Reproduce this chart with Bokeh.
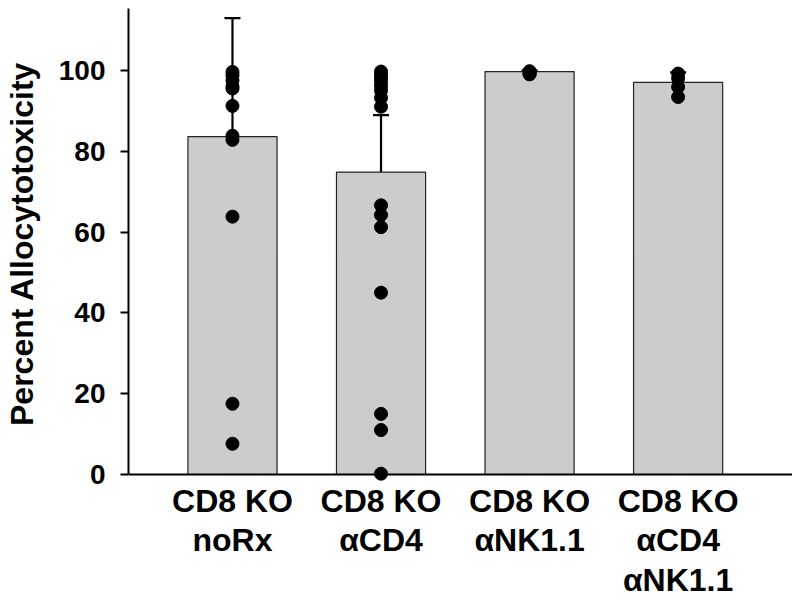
from bokeh.plotting import figure
from bokeh.models import ColumnDataSource, Whisker, TeeHead, FixedTicker, Range1d, Span
from bokeh.core.properties import value
from bokeh.embed import file_html
from bokeh.resources import INLINE

# ---- data ----
categories = ["CD8 KO\nnoRx", "CD8 KO\nαCD4", "CD8 KO\nαNK1.1", "CD8 KO\nαCD4\nαNK1.1"]
means = [83.6, 74.8, 99.7, 97.0]
errors = [29.3, 14.1, 0.3, 2.5]
points_noRx = [99.6, 98.8, 97.5, 96.0, 95.5, 91.2, 83.8, 82.8, 63.8, 17.5, 7.6]
points_aCD4 = [99.7, 99.0, 98.2, 97.3, 96.2, 95.0, 93.2, 91.0, 66.6, 64.2, 61.2, 45.0, 15.0, 11.0, 0.2]
points_aNK = [99.8, 99.5, 99.2, 99.0]
points_aCD4_aNK = [99.2, 98.0, 95.9, 93.4]
yticks = [0, 20, 40, 60, 80, 100]
y_title = "Percent Allocytotoxicity"

xs = list(range(len(categories)))
all_points = [points_noRx, points_aCD4, points_aNK, points_aCD4_aNK]
px, py = [], []
for i, pts in enumerate(all_points):
    for v in pts:
        px.append(xs[i])
        py.append(v)

bar_src = ColumnDataSource(dict(x=xs, top=means,
                                upper=[m + e for m, e in zip(means, errors)]))
pt_src = ColumnDataSource(dict(x=px, y=py))
lab_src = ColumnDataSource(dict(x=xs, y=[0] * len(xs), text=categories))

FONT = "Liberation Sans"
YMAX = 115.3
YMIN = -29.69  # room below the axis for the category labels

p = figure(width=792, height=594, output_backend="svg", toolbar_location=None,
           x_range=Range1d(-0.7, 3.77), y_range=Range1d(YMIN, YMAX),
           min_border_left=119, min_border_right=0, min_border_top=8,
           min_border_bottom=0)
p.outline_line_color = None
p.grid.visible = False
p.background_fill_color = "white"
p.xaxis.visible = False

p.vbar(x="x", top="top", width=0.6, bottom=0, source=bar_src,
       fill_color="#cccccc", line_color="#222222", line_width=1.2)

w = Whisker(base="x", lower="top", upper="upper", source=bar_src,
            line_color="black", line_width=2.2,
            upper_head=TeeHead(size=16, line_color="black", line_width=2.2),
            lower_head=None)
p.add_layout(w)

# x axis line at y = 0
p.add_layout(Span(location=0, dimension="width", line_color="black", line_width=2))

p.scatter(x="x", y="y", source=pt_src, size=13, color="black")

# category labels
p.text(x="x", y="y", text="text", source=lab_src, y_offset=8,
       text_align="center", text_baseline="top", text_font=value(FONT),
       text_font_style="bold", text_font_size="32px", text_color="black",
       text_line_height=1.1)

# y axis
ya = p.yaxis[0]
ya.bounds = (0, YMAX)
ya.ticker = FixedTicker(ticks=yticks)
ya.minor_tick_line_color = None
ya.major_tick_out = 8
ya.major_tick_in = 0
ya.major_tick_line_width = 2
ya.axis_line_width = 2
ya.major_label_text_font = FONT
ya.major_label_text_font_style = "bold"
ya.major_label_text_font_size = "28px"
ya.major_label_text_color = "black"
ya.major_label_standoff = 15
# leading no-break spaces lift the centred title onto the 0..max part of the axis
ya.axis_label = "\u00a0" * 13 + y_title
ya.axis_label_text_font = FONT
ya.axis_label_text_font_style = "bold"
ya.axis_label_text_font_size = "32px"
ya.axis_label_text_color = "black"
ya.axis_label_standoff = 16

open("out.html", "w").write(file_html(p, INLINE))
